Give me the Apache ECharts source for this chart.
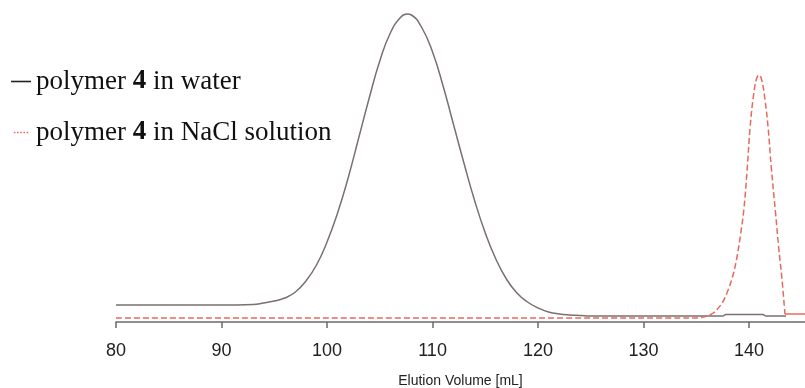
<!DOCTYPE html>
<html>
<head>
<meta charset="utf-8">
<script src="https://cdn.jsdelivr.net/npm/echarts@6/dist/echarts.min.js"></script>
<style>html,body{margin:0;padding:0;background:#fff;}#c{width:805px;height:388px;}</style>
</head>
<body>
<div id="c"></div>
<script>
// Elution volume (mL) and detector signal (relative units)
const waterName = 'polymer 4 in water';
const naclName = 'polymer 4 in NaCl solution';
const waterX = [80, 85, 90, 93, 94, 95, 96, 97, 98, 99, 100, 101, 102, 103, 104, 105, 106, 107, 107.6, 108, 109, 110, 111, 112, 113, 114, 115, 116, 117, 118, 119, 120, 121, 122, 123, 124, 125, 130, 135, 137.5, 137.8, 141.3, 141.6, 143.5];
const waterY = [17, 17, 17, 17.5, 19, 21, 24, 30, 41, 57, 80, 109, 144, 184, 224, 261, 289, 305, 308, 307, 294, 270, 236, 197, 158, 121, 89, 63, 43, 29, 20, 14, 10, 8, 7, 6.5, 6, 6, 6, 6, 7.5, 7.5, 6, 6];
const naclX = [80, 135, 135.4, 136, 136.6, 137, 137.5, 137.9, 138.4, 138.8, 139.2, 139.5, 139.8, 140.1, 140.4, 140.7, 140.95, 141.2, 141.5, 141.8, 142.1, 142.5, 142.8, 143.1, 143.4];
const naclY = [4, 4, 4.5, 6, 9, 13, 20, 29, 44, 62, 88, 112, 150, 195, 225, 243, 247, 242, 223, 195, 155, 110, 75, 45, 8];
const naclTailX = [143.4, 145.3];
const naclTailY = [8, 8];
const xTicks = [80, 90, 100, 110, 120, 130, 140];

const pairs = (xs, ys) => xs.map((x, i) => [x, ys[i]]);
const red = '#e8685c';

const chart = echarts.init(document.getElementById('c'), null, {renderer: 'canvas'});
chart.setOption({
  animation: false,
  backgroundColor: '#ffffff',
  grid: {left: 116, right: 0, top: 12, bottom: 66, containLabel: false, outerBoundsMode: 'none'},
  legend: {
    orient: 'vertical',
    left: 11,
    top: 68,
    itemGap: 24,
    itemWidth: 20,
    itemHeight: 1.6,
    padding: 0,
    data: [
      {name: waterName, icon: 'rect', itemStyle: {color: '#222', borderWidth: 0}},
      {name: naclName, icon: 'path://M0,0h2v2h-2z M4,0h2v2h-2z M8,0h2v2h-2z M12,0h2v2h-2z M16,0h2v2h-2z', itemStyle: {color: red, borderWidth: 0}}
    ],
    formatter: n => n.replace('4', '{b|4}'),
    textStyle: {
      fontFamily: 'Liberation Serif', fontSize: 27, color: '#111',
      rich: {b: {fontFamily: 'Liberation Serif', fontSize: 27, fontWeight: 'bold', color: '#111'}}
    }
  },
  xAxis: {
    type: 'value',
    min: 80,
    max: 145.3,
    interval: 10,
    name: 'Elution Volume [mL]',
    nameLocation: 'middle',
    nameGap: 52,
    nameTextStyle: {fontFamily: 'Liberation Sans', fontSize: 14, color: '#222'},
    axisLine: {show: true, lineStyle: {color: '#6a6a6a', width: 1.5}},
    axisTick: {show: true, length: 6, customValues: xTicks, lineStyle: {color: '#6a6a6a', width: 1.5}},
    axisLabel: {
      fontFamily: 'Liberation Sans', fontSize: 18, color: '#222', margin: 20,
      customValues: xTicks
    },
    splitLine: {show: false}
  },
  yAxis: {
    type: 'value', min: 0, max: 310, show: false, splitLine: {show: false}
  },
  series: [
    {
      name: waterName, type: 'line', data: pairs(waterX, waterY),
      showSymbol: false, symbol: 'none', smooth: 0.5,
      lineStyle: {color: '#7a7070', width: 1.5, type: 'solid'},
      itemStyle: {color: '#222'}, z: 2
    },
    {
      name: naclName, type: 'line', data: pairs(naclX, naclY),
      showSymbol: false, symbol: 'none', smooth: 0.4,
      lineStyle: {color: red, width: 1.5, type: [6, 3]},
      itemStyle: {color: red}, z: 3
    },
    {
      name: 'nacl-tail', type: 'line', data: pairs(naclTailX, naclTailY),
      showSymbol: false, symbol: 'none',
      lineStyle: {color: red, width: 1.3, type: 'solid'}, z: 3
    }
  ]
});
</script>
</body>
</html>
